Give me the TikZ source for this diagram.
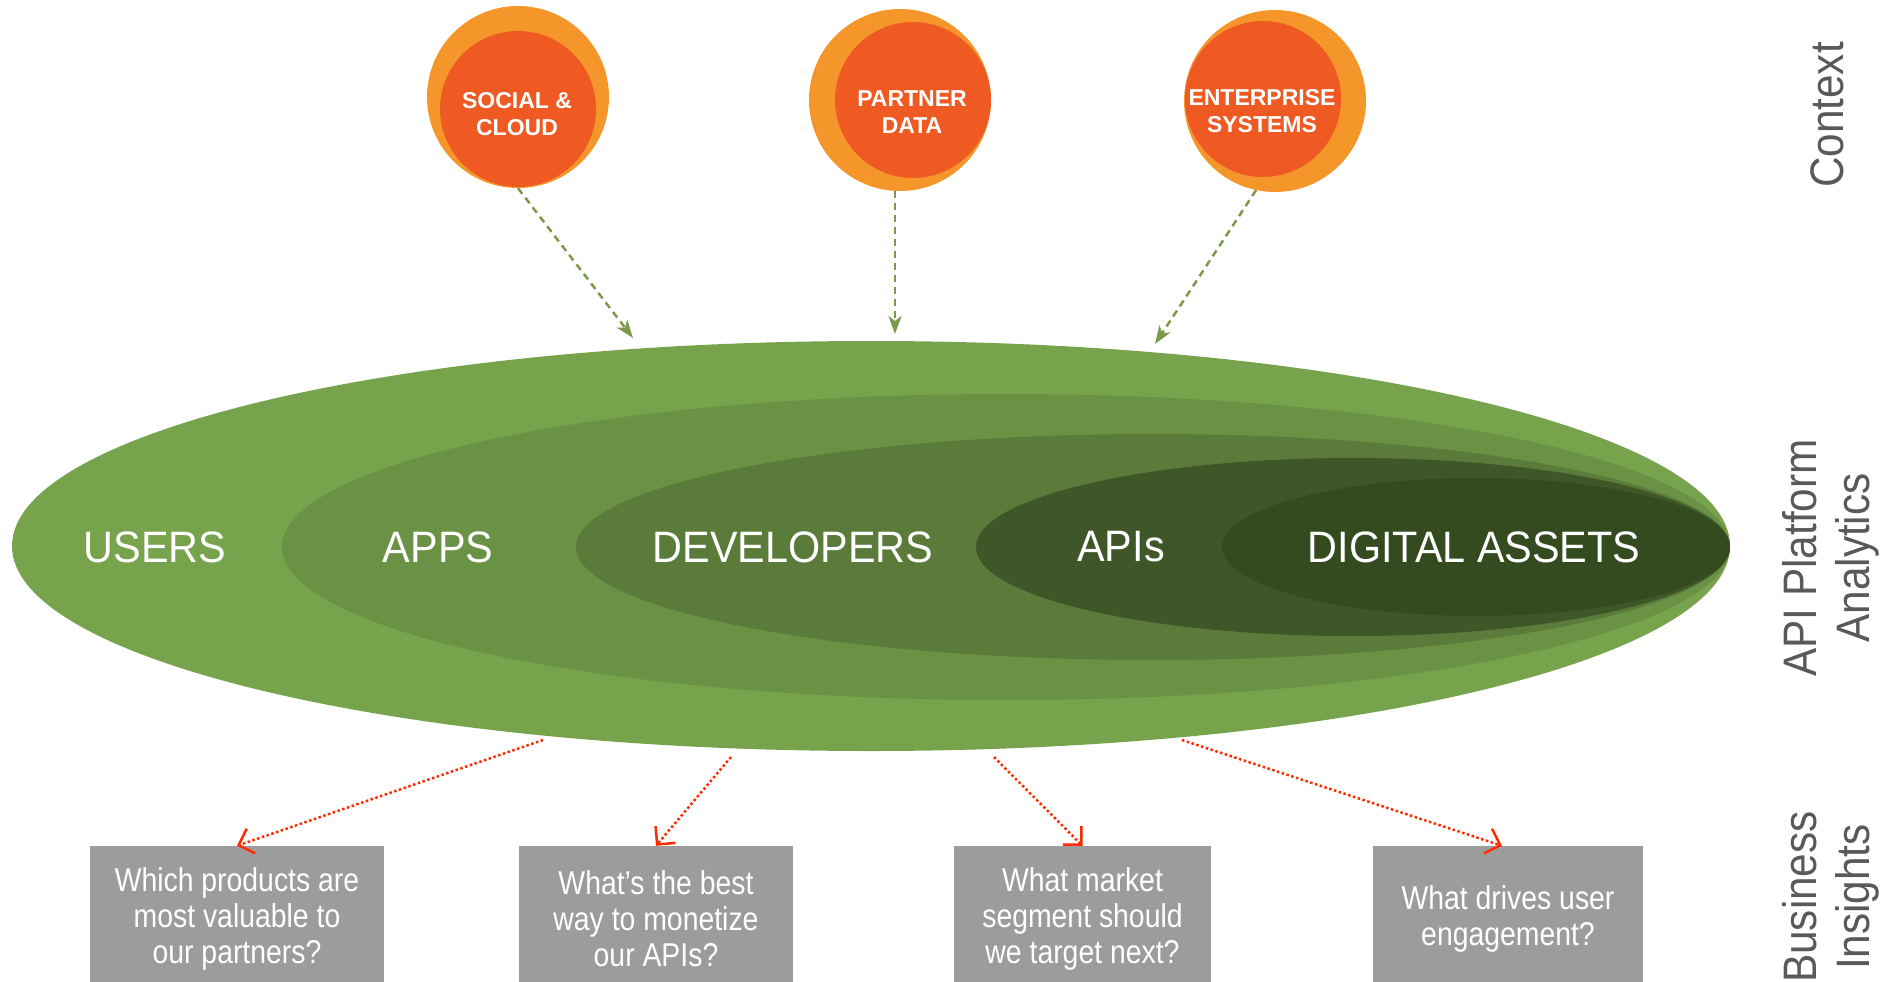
\documentclass[tikz,border=0pt]{standalone}
\usepackage{fontspec}
\setmainfont{Liberation Sans}
\newfontfamily\narrowf[FakeStretch=0.86]{Liberation Sans}
\newfontfamily\labelf[FakeStretch=0.94]{Liberation Sans}
\newfontfamily\sidef[FakeStretch=0.9]{Liberation Sans}
\usetikzlibrary{arrows.meta, shapes.geometric}

\definecolor{gA}{HTML}{76A34B}
\definecolor{gB}{HTML}{6A9245}
\definecolor{gC}{HTML}{5A7B3A}
\definecolor{gD}{HTML}{3E5628}
\definecolor{gE}{HTML}{344B20}
\definecolor{orA}{HTML}{F5962A}
\definecolor{orB}{HTML}{EF5A23}
\definecolor{dgreen}{HTML}{7B9A4B}
\definecolor{redd}{HTML}{FF2A00}
\definecolor{boxg}{HTML}{9C9C9C}
\definecolor{sideg}{HTML}{595959}

\begin{document}
\begin{tikzpicture}[x=1pt, y=-1pt,
  layer/.style={ellipse, inner sep=0pt, draw=none},
  elabel/.style={text=white, inner sep=0pt, font=\labelf\fontsize{44}{48}\selectfont},
  outerc/.style={circle, fill=orA, minimum size=182pt, inner sep=0pt},
  innerc/.style={circle, fill=orB, minimum size=156pt, inner sep=0pt},
  ctext/.style={text=white, inner sep=0pt, align=center, font=\bfseries\fontsize{23}{27}\selectfont},
  qbox/.style={fill=boxg, text=white, inner sep=0pt, align=center, minimum height=146pt, font=\narrowf\fontsize{33}{36}\selectfont},
  side/.style={rotate=90, text=sideg, inner sep=0pt, align=center, font=\sidef\fontsize{47}{53}\selectfont},
  feed/.style={draw=dgreen, line width=2.5pt, dash pattern=on 7pt off 5pt, -{Stealth[length=18pt,width=13pt,inset=5pt]}},
  insight/.style={draw=redd, line width=2.5pt, dash pattern=on 2.5pt off 2.5pt, -{Straight Barb[length=13pt,width=26pt]}}
]
\useasboundingbox (0,0) rectangle (1892,982);

% nested ellipses
\node[layer, fill=gA, minimum width=1718pt, minimum height=410pt] (users)  at (871,546) {};
\node[layer, fill=gB, minimum width=1448pt, minimum height=306pt] (apps)   at (1006,547) {};
\node[layer, fill=gC, minimum width=1154pt, minimum height=226pt] (devs)   at (1153,547) {};
\node[layer, fill=gD, minimum width=754pt,  minimum height=178pt] (apis)   at (1353,547) {};
\node[layer, fill=gE, minimum width=508pt,  minimum height=138pt] (assets) at (1476,547) {};

\node[elabel] (lusers)  at (155,547)  {USERS};
\node[elabel] (lapps)   at (438,547)  {APPS};
\node[elabel] (ldevs)   at (793,547)  {DEVELOPERS};
\node[elabel] (lapis)   at (1121,547) {APIs};
\node[elabel] (lassets) at (1474,547) {DIGITAL ASSETS};

% context circles
\node[outerc] (soc) at (518,97) {};
\node[innerc] (soci) at (518,109) {};
\node[ctext] (soct) at (517,114) {SOCIAL \&\\CLOUD};

\node[outerc] (par) at (900,100) {};
\node[innerc] (pari) at (913,100) {};
\node[ctext] (part) at (912,112) {PARTNER\\DATA};

\node[outerc] (ent) at (1275,101) {};
\node[innerc] (enti) at (1263,99) {};
\node[ctext] (entt) at (1262,111) {ENTERPRISE\\SYSTEMS};

% green feeds
\coordinate (g1) at (633,338);
\coordinate (g2) at (895,334);
\coordinate (g3) at (1155,344);
\draw[feed] (soc.south) -- (g1);
\draw[feed] ([xshift=-5pt]par.south) -- (g2);
\draw[feed] (ent.-102) -- (g3);

% question boxes (extend below the page edge, as in the reference)
\node[qbox, minimum width=294pt] (q1) at (237,919) {Which products are\\most valuable to\\our partners?};
\node[qbox, minimum width=274pt] (q2) at (656,919) {What’s the best\\way to monetize\\our APIs?};
\node[qbox, minimum width=257pt] (q3) at (1082.5,919) {What market\\segment should\\we target next?};
\node[qbox, minimum width=270pt] (q4) at (1508,919) {What drives user\\engagement?};

% red insight arrows
\coordinate (r1) at (543,740);
\coordinate (r2) at (731,757);
\coordinate (r3) at (994,757);
\coordinate (r4) at (1182,740);
\draw[insight] (r1) -- (q1.north);
\draw[insight] (r2) -- (q2.north);
\draw[insight] (r3) -- (q3.north);
\draw[insight] (r4) -- ([xshift=-6pt]q4.north);

% side labels
\node[side] (ctx) at (1827,115) {Context};
\node[side] (apa) at (1831,558) {API Platform\\Analytics};
\node[side] (bi)  at (1831,897) {Business\\Insights};
\end{tikzpicture}
\end{document}
